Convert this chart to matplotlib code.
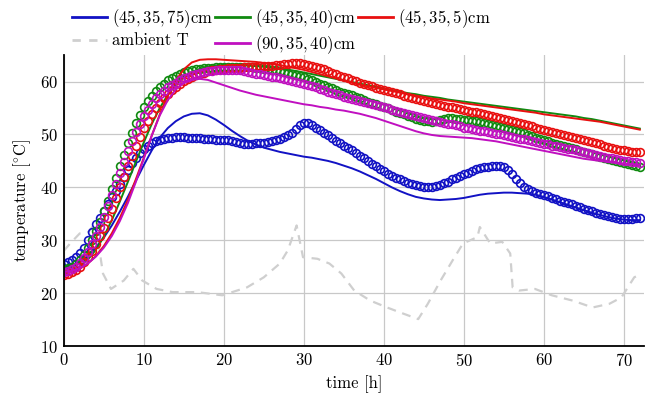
import numpy as np
import matplotlib
matplotlib.use('Agg')
import matplotlib.pyplot as plt
from matplotlib.lines import Line2D

plt.rcParams['font.family'] = 'serif'
plt.rcParams['font.serif'] = ['cmr10']
plt.rcParams['mathtext.fontset'] = 'cm'
plt.rcParams['axes.formatter.use_mathtext'] = True

# measured data every half hour, simulation hourly
t_meas = np.arange(0, 72.5, 0.5)
t_sim = np.arange(0, 73, 1)

blue_meas = [25.5, 25.8, 26.2, 26.8, 27.5, 28.6, 30.0, 31.6, 33.0, 34.3, 35.6, 36.9, 38.1, 39.4, 40.7, 42.0,
             43.3, 44.6, 45.6, 46.5, 47.2, 47.8, 48.3, 48.7, 49.0, 49.2, 49.3, 49.4, 49.5, 49.5, 49.5, 49.4,
             49.4, 49.3, 49.3, 49.2, 49.2, 49.1, 49.0, 49.0, 49.0, 48.9, 48.7, 48.5, 48.3, 48.2, 48.2, 48.2,
             48.3, 48.3, 48.4, 48.5, 48.7, 48.9, 49.2, 49.5, 49.8, 50.3, 51.0, 51.7, 52.2, 52.1, 51.8, 51.3,
             50.8, 50.3, 49.8, 49.3, 48.8, 48.4, 47.9, 47.5, 47.0, 46.5, 46.0, 45.5, 45.0, 44.5, 44.0, 43.5,
             43.0, 42.6, 42.2, 41.8, 41.5, 41.2, 40.9, 40.6, 40.4, 40.2, 40.1, 40.0, 40.1, 40.3, 40.5, 40.8,
             41.1, 41.5, 41.8, 42.2, 42.5, 42.8, 43.1, 43.4, 43.6, 43.8, 43.9, 44.0, 44.0, 44.0, 43.8, 43.3,
             42.5, 41.6, 40.8, 40.1, 39.6, 39.3, 39.0, 38.8, 38.5, 38.3, 38.0, 37.8, 37.5, 37.3, 37.0, 36.8,
             36.5, 36.3, 36.0, 35.8, 35.5, 35.2, 35.0, 34.8, 34.6, 34.4, 34.2, 34.1, 34.0, 34.0, 34.1, 34.2,
             34.3]
green_meas = [24.5, 24.7, 25.0, 25.5, 26.2, 27.2, 28.5, 30.0, 31.7, 33.5, 35.5, 37.5, 39.6, 41.8, 44.0, 46.2,
              48.3, 50.3, 52.1, 53.7, 55.1, 56.3, 57.3, 58.2, 58.9, 59.6, 60.2, 60.7, 61.1, 61.5, 61.8, 62.0,
              62.2, 62.3, 62.4, 62.5, 62.6, 62.6, 62.7, 62.7, 62.8, 62.8, 62.8, 62.8, 62.8, 62.8, 62.8, 62.7,
              62.6, 62.5, 62.4, 62.3, 62.2, 62.1, 62.0, 61.8, 61.6, 61.4, 61.2, 61.0, 60.8, 60.5, 60.2, 59.9,
              59.6, 59.3, 59.0, 58.7, 58.4, 58.1, 57.9, 57.6, 57.4, 57.1, 56.8, 56.5, 56.2, 55.9, 55.7, 55.4,
              55.2, 54.9, 54.6, 54.3, 54.1, 53.8, 53.5, 53.2, 53.0, 52.8, 52.6, 52.5, 52.4, 52.6, 52.8, 53.0,
              53.1, 53.1, 53.0, 52.9, 52.8, 52.7, 52.6, 52.5, 52.4, 52.2, 52.0, 51.8, 51.6, 51.4, 51.2, 51.0,
              50.8, 50.6, 50.4, 50.2, 49.9, 49.7, 49.4, 49.2, 48.9, 48.7, 48.4, 48.2, 48.0, 47.8, 47.6, 47.4,
              47.2, 46.9, 46.7, 46.5, 46.3, 46.0, 45.8, 45.6, 45.4, 45.2, 45.0, 44.8, 44.6, 44.4, 44.2, 44.0,
              43.9]
red_meas = [23.5, 23.7, 24.0, 24.4, 25.0, 25.8, 26.8, 28.0, 29.3, 30.8, 32.4, 34.2, 36.0, 38.0, 40.0, 42.0,
            44.0, 46.0, 47.9, 49.6, 51.2, 52.6, 53.9, 55.0, 56.0, 56.9, 57.7, 58.4, 59.0, 59.6, 60.1, 60.5,
            60.9, 61.2, 61.5, 61.7, 61.9, 62.1, 62.2, 62.3, 62.4, 62.5, 62.5, 62.6, 62.6, 62.7, 62.7, 62.8,
            62.8, 62.9, 62.9, 63.0, 63.0, 63.1, 63.2, 63.3, 63.4, 63.5, 63.5, 63.5, 63.4, 63.2, 63.0, 62.8,
            62.5, 62.3, 62.0, 61.7, 61.4, 61.1, 60.8, 60.6, 60.3, 60.1, 59.8, 59.6, 59.3, 59.1, 58.8, 58.6,
            58.4, 58.2, 58.0, 57.8, 57.6, 57.3, 57.1, 56.9, 56.7, 56.5, 56.3, 56.1, 55.9, 55.7, 55.5, 55.4,
            55.2, 55.1, 54.9, 54.8, 54.6, 54.5, 54.3, 54.2, 54.0, 53.9, 53.7, 53.5, 53.3, 53.1, 52.9, 52.7,
            52.5, 52.3, 52.1, 51.9, 51.7, 51.5, 51.3, 51.1, 50.9, 50.7, 50.5, 50.3, 50.1, 49.9, 49.7, 49.5,
            49.3, 49.1, 48.9, 48.7, 48.5, 48.3, 48.1, 47.9, 47.7, 47.5, 47.3, 47.1, 47.0, 46.8, 46.7, 46.6,
            46.6]
magenta_meas = [24.0, 24.2, 24.5, 25.0, 25.7, 26.6, 27.8, 29.2, 30.8, 32.5, 34.4, 36.4, 38.5, 40.6, 42.7, 44.8,
                46.8, 48.7, 50.4, 52.0, 53.4, 54.7, 55.8, 56.8, 57.6, 58.3, 58.9, 59.4, 59.8, 60.2, 60.6, 60.9,
                61.2, 61.4, 61.6, 61.8, 61.9, 62.0, 62.1, 62.2, 62.2, 62.2, 62.2, 62.2, 62.1, 62.0, 61.8, 61.7,
                61.5, 61.4, 61.2, 61.1, 60.9, 60.8, 60.6, 60.5, 60.3, 60.1, 59.9, 59.7, 59.5, 59.3, 59.1, 58.9,
                58.6, 58.4, 58.1, 57.9, 57.6, 57.4, 57.1, 56.9, 56.7, 56.5, 56.3, 56.1, 55.9, 55.7, 55.5, 55.3,
                55.1, 54.9, 54.7, 54.5, 54.3, 54.1, 53.9, 53.7, 53.5, 53.3, 53.1, 52.9, 52.7, 52.5, 52.3, 52.2,
                52.0, 51.9, 51.7, 51.5, 51.3, 51.2, 51.0, 50.9, 50.7, 50.6, 50.4, 50.3, 50.1, 50.0, 49.8, 49.7,
                49.5, 49.4, 49.2, 49.1, 48.9, 48.8, 48.6, 48.4, 48.2, 48.1, 47.9, 47.8, 47.6, 47.5, 47.3, 47.2,
                47.0, 46.8, 46.6, 46.5, 46.3, 46.2, 46.0, 45.8, 45.6, 45.5, 45.3, 45.2, 45.0, 44.9, 44.8, 44.7,
                44.6]

blue_sim = [24.5, 25.0, 25.8, 27.0, 28.6, 30.5, 32.8, 35.4, 38.2, 41.2, 44.2, 47.0, 49.4, 51.2, 52.5, 53.4,
            53.9, 54.0, 53.6, 52.8, 51.8, 50.7, 49.7, 48.8, 48.1, 47.5, 47.1, 46.7, 46.4, 46.1, 45.8, 45.6,
            45.3, 45.0, 44.6, 44.1, 43.6, 43.0, 42.3, 41.6, 40.8, 40.0, 39.3, 38.7, 38.2, 37.9, 37.7, 37.6,
            37.7, 37.8, 38.0, 38.3, 38.6, 38.8, 38.9, 39.0, 39.0, 38.9, 38.8, 38.6, 38.2, 37.7, 37.2, 36.7,
            36.2, 35.7, 35.2, 34.8, 34.4, 34.1, 33.9, 33.8, 33.8]
green_sim = [24.0, 24.3, 25.0, 26.3, 28.2, 30.7, 33.8, 37.3, 41.0, 44.8, 48.5, 52.0, 55.0, 57.5, 59.4, 60.8,
             61.8, 62.4, 62.8, 63.0, 63.1, 63.1, 63.1, 63.0, 62.9, 62.8, 62.6, 62.4, 62.2, 62.0, 61.7, 61.4,
             61.1, 60.8, 60.5, 60.2, 59.9, 59.6, 59.3, 59.0, 58.7, 58.4, 58.1, 57.8, 57.6, 57.3, 57.1, 56.9,
             56.6, 56.4, 56.2, 56.0, 55.8, 55.6, 55.4, 55.2, 55.0, 54.8, 54.6, 54.4, 54.2, 54.0, 53.8, 53.6,
             53.4, 53.1, 52.9, 52.6, 52.3, 52.0, 51.7, 51.4, 51.1]
red_sim = [23.8, 24.0, 24.6, 25.6, 27.0, 28.9, 31.3, 34.2, 37.6, 41.5, 45.6, 49.8, 53.8, 57.3, 60.2, 62.3,
           63.6, 64.1, 64.2, 64.2, 64.1, 64.0, 63.9, 63.8, 63.7, 63.5, 63.3, 63.1, 62.8, 62.5, 62.2, 61.8,
           61.4, 61.0, 60.6, 60.2, 59.8, 59.4, 59.1, 58.8, 58.5, 58.2, 57.9, 57.6, 57.3, 57.1, 56.8, 56.6,
           56.4, 56.2, 55.9, 55.7, 55.5, 55.3, 55.1, 54.9, 54.7, 54.5, 54.3, 54.1, 53.8, 53.6, 53.4, 53.2,
           53.0, 52.8, 52.6, 52.4, 52.1, 51.8, 51.5, 51.2, 50.9]
magenta_sim = [24.0, 24.2, 24.7, 25.6, 26.9, 28.6, 30.8, 33.6, 37.0, 41.0, 45.4, 49.8, 53.6, 56.5, 58.5, 59.7,
               60.3, 60.5, 60.3, 59.8, 59.3, 58.8, 58.3, 57.9, 57.5, 57.2, 56.9, 56.6, 56.3, 56.0, 55.7, 55.5,
               55.2, 55.0, 54.7, 54.5, 54.2, 53.9, 53.5, 53.1, 52.6, 52.1, 51.6, 51.1, 50.6, 50.2, 49.9, 49.7,
               49.6, 49.5, 49.4, 49.3, 49.1, 48.9, 48.7, 48.4, 48.1, 47.8, 47.5, 47.2, 46.9, 46.6, 46.3, 46.0,
               45.7, 45.4, 45.2, 45.0, 44.8, 44.6, 44.5, 44.4, 44.3]

t_amb = [0, 0.8, 2, 3.1, 3.9, 4.4, 4.9, 5.9, 7.5, 8.7, 9.8, 11.6, 13.6, 16.7, 19.8, 22.9, 25, 27, 28, 29.1,
         29.9, 31.7, 33.2, 34.7, 36.3, 38.3, 40.4, 42.5, 44.3, 45.5, 47.1, 48.6, 49.9, 51.7, 52, 53.3, 54.8,
         55.8, 56.1, 56.9, 58.9, 61, 63.6, 66.1, 68.2, 69.7, 71.3, 72]
T_amb = [28, 29.4, 31.3, 31.6, 33.2, 28.7, 23.7, 20.8, 22.4, 24.6, 22.4, 20.8, 20.2, 20.2, 19.6, 21.1, 23, 25.6,
         28.1, 32.8, 26.8, 26.5, 25.6, 23.7, 20.5, 18.6, 17.3, 16.1, 15.1, 18, 22.4, 26.2, 29.4, 30.6, 32.5,
         29.4, 29.7, 27.5, 21.1, 20.5, 20.8, 19.6, 18.6, 17.3, 18, 19.2, 23, 23.5]

labels = [r'$(45, 35, 75)$cm', r'$(45, 35, 40)$cm', r'$(45, 35, 5)$cm', r'$(90, 35, 40)$cm']
colors = ['#1212c4', '#108a10', '#e81010', '#c010c0']
meas = [blue_meas, green_meas, red_meas, magenta_meas]
sims = [blue_sim, green_sim, red_sim, magenta_sim]
amb_color = '#cfcfcf'

fig = plt.figure(figsize=(6.51, 3.96), dpi=100)
ax = fig.add_axes([0.098, 0.126, 0.891, 0.735])

ax.plot(t_amb, T_amb, color=amb_color, lw=1.6, dashes=(4, 3))
for m, s, c in zip(meas, sims, colors):
    ax.plot(t_meas, m, ls='none', marker='o', ms=5.6, mfc='none', mec=c, mew=1.2)
    ax.plot(t_sim, s, color=c, lw=1.4)

ax.set_xlim(0, 72.5)
ax.set_ylim(10, 65)
ax.set_xticks(np.arange(0, 71, 10))
ax.set_yticks(np.arange(10, 61, 10))
ax.grid(True, color='#c8c8c8', lw=0.9)
ax.set_axisbelow(True)
for sp in ['top', 'right']:
    ax.spines[sp].set_visible(False)
for sp in ['left', 'bottom']:
    ax.spines[sp].set_linewidth(1.3)
ax.tick_params(length=0, labelsize=12, pad=4)
ax.set_xlabel('time [h]', fontsize=12, labelpad=5)
ax.set_ylabel(r'temperature [$^{\circ}\mathrm{C}$]', fontsize=12, labelpad=5)

handles = [Line2D([], [], color=colors[0], lw=2),
           Line2D([], [], color=amb_color, lw=2, dashes=(3, 3)),
           Line2D([], [], color=colors[1], lw=2),
           Line2D([], [], color=colors[3], lw=2),
           Line2D([], [], color=colors[2], lw=2)]
names = [labels[0], 'ambient T', labels[1], labels[3], labels[2]]
fig.legend(handles, names, loc='upper left', bbox_to_anchor=(0.088, 1.02), ncol=3, frameon=False,
           fontsize=12, handlelength=2.1, handletextpad=0.3, columnspacing=0.1, labelspacing=0.2)

fig.savefig('out.png', dpi=100)
